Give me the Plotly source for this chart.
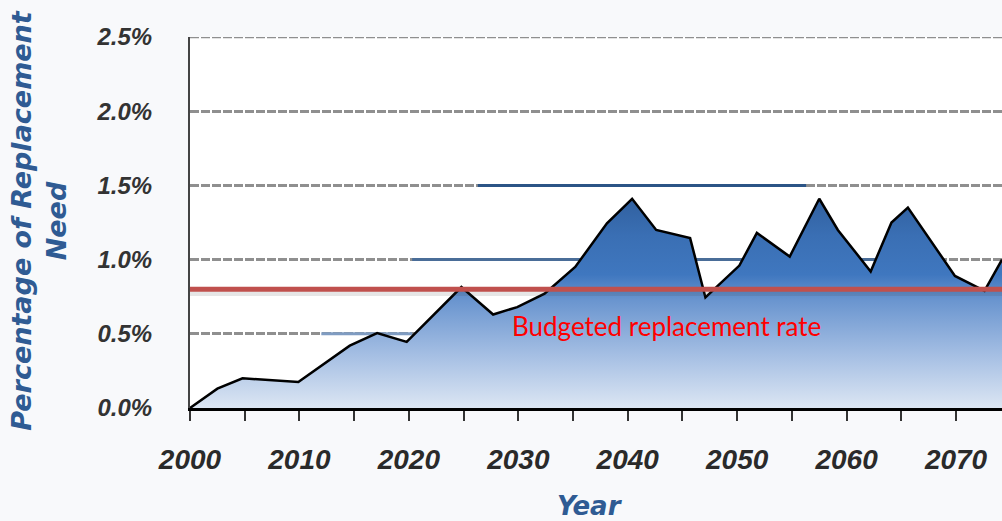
import plotly.graph_objects as go

# ---- data ----
years = [2000, 2002.5, 2004.8, 2009.9, 2014.6, 2017.1, 2019.8, 2024.8, 2027.7,
         2029.9, 2032.4, 2035.2, 2038.1, 2040.4, 2042.6, 2045.7, 2047.1, 2050.2,
         2051.8, 2054.8, 2057.5, 2059.2, 2062.2, 2064.1, 2065.6, 2069.9, 2072.6,
         2074.2]
need_pct = [0.0, 0.13, 0.20, 0.175, 0.42, 0.505, 0.445, 0.815, 0.63,
            0.68, 0.77, 0.95, 1.245, 1.41, 1.20, 1.145, 0.745, 0.96,
            1.18, 1.02, 1.41, 1.20, 0.92, 1.25, 1.35, 0.89, 0.79,
            1.0]
budget_rate = 0.8
budget_label = "Budgeted replacement rate"
x_range = [2000, 2074.2]
x_tick_vals = [2000, 2010, 2020, 2030, 2040, 2050, 2060, 2070]
x_tick_text = [str(v) for v in x_tick_vals]
y_tick_vals = [0.0, 0.5, 1.0, 1.5, 2.0, 2.5]
y_tick_text = ["0.0%", "0.5%", "1.0%", "1.5%", "2.0%", "2.5%"]
y_top = 2.5

# blue segments visible on gridlines
seg_y = [0.5, 1.0, 1.5]
seg_start = [2012.0, 2020.3, 2026.3]
seg_end = [2020.3, 2068.9, 2056.3]
seg_colors = ["#7f9cc2", "#4a6d98", "#2b5486"]

GRID_COLOR = "#8f8f8f"
GRID_DASH = "9px,2px"

fig = go.Figure()

# top gridline (at edge of range)
fig.add_trace(go.Scatter(x=x_range, y=[y_top, y_top], mode="lines",
                         line=dict(color=GRID_COLOR, width=2.5, dash=GRID_DASH),
                         hoverinfo="skip", showlegend=False, cliponaxis=False))

for yv, x0, x1, c in zip(seg_y, seg_start, seg_end, seg_colors):
    fig.add_trace(go.Scatter(x=[x0, x1], y=[yv, yv], mode="lines",
                             line=dict(color=c, width=3), hoverinfo="skip",
                             showlegend=False))

fig.add_trace(go.Scatter(
    x=years, y=need_pct, mode="lines", fill="tozeroy",
    line=dict(color="black", width=2.5),
    fillgradient=dict(type="vertical", start=0, stop=1.45,
                      colorscale=[[0, "#dce6f3"], [0.25, "#a4bee3"],
                                  [0.5, "#6a95cf"], [0.62, "#3f77bf"],
                                  [0.8, "#3a6fb4"], [1, "#2f5e9c"]]),
    showlegend=False, hoverinfo="skip"))

# shadow of budget line
fig.add_trace(go.Scatter(x=x_range, y=[budget_rate - 0.025, budget_rate - 0.025],
                         mode="lines", line=dict(color="rgba(60,60,60,0.13)", width=6),
                         showlegend=False, hoverinfo="skip"))
fig.add_trace(go.Scatter(x=x_range, y=[budget_rate, budget_rate], mode="lines",
                         line=dict(color="#c0504d", width=5),
                         showlegend=False, hoverinfo="skip"))

fig.add_annotation(x=2029.2, y=0.55, xref="x", yref="y", text=budget_label,
                   showarrow=False, xanchor="left", yanchor="middle",
                   font=dict(family="Lato", size=26, color="#ff0000"))

title_font = dict(family="DejaVu Sans", size=27, color="#2f5b93",
                  weight="bold", style="italic")
fig.add_annotation(x=-0.187, y=0.505, xref="paper", yref="paper",
                   text="Percentage of Replacement<br>Need", textangle=-90,
                   showarrow=False, xanchor="center", yanchor="middle",
                   font=title_font)
fig.add_annotation(x=0.4926, y=-0.264, xref="paper", yref="paper",
                   text="Year", showarrow=False, xanchor="center",
                   yanchor="middle", font=dict(title_font, size=26))

fig.update_xaxes(range=x_range, tickvals=x_tick_vals, ticktext=x_tick_text,
                 showgrid=False, zeroline=False, showline=True,
                 linecolor="black", linewidth=3, ticks="outside", ticklen=10,
                 tickwidth=2, tickcolor="#333",
                 minor=dict(dtick=5, tick0=2000, ticks="outside", ticklen=10,
                            tickwidth=2, tickcolor="#333", showgrid=False),
                 ticklabelstandoff=14,
                 tickfont=dict(family="Liberation Sans", size=28, color="#2a2a2a",
                               weight="bold", style="italic"))
fig.update_yaxes(range=[0, y_top], tickvals=y_tick_vals, ticktext=y_tick_text,
                 showgrid=True, gridcolor=GRID_COLOR, gridwidth=2.5,
                 griddash=GRID_DASH, zeroline=False, showline=True,
                 linecolor="#444", linewidth=2, ticks="", ticklabelstandoff=31,
                 tickfont=dict(family="Liberation Sans", size=24, color="#333333",
                               weight="bold", style="italic"))

fig.update_layout(width=1002, height=521,
                  margin=dict(l=190, r=0, t=37, b=113),
                  paper_bgcolor="#f8f9fb", plot_bgcolor="white",
                  showlegend=False)

fig.write_html("out.html")
